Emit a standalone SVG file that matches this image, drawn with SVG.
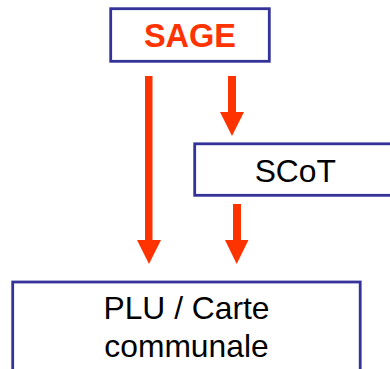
<svg xmlns="http://www.w3.org/2000/svg" width="390" height="369" viewBox="0 0 390 369">
<style>
.box{fill:#fff;stroke:#333399;stroke-width:2.8}
.t{font-family:"Liberation Sans",Arial,sans-serif;font-size:31.8px;text-anchor:middle;fill:#000}
.sage{font-weight:bold;font-size:32.5px;fill:#ff3300}
.arr{fill:#ff3300}
</style>
<rect width="390" height="369" fill="#fff"/>
<g id="connectors">
<path class="arr" d="M145,76 H152.5 V240 H161 L149,264 L137,240 H145 Z"/>
<path class="arr" d="M228,76 H236 V112 H244 L232,136 L220,112 H228 Z"/>
<path class="arr" d="M233,204 H241 V240 H248.5 L236.7,264 L225,240 H233 Z"/>
</g>
<g id="sage">
<rect class="box" x="110.7" y="8.7" width="158.6" height="52.6"/>
<text class="t sage" x="190" y="47">SAGE</text>
</g>
<g id="scot">
<rect class="box" x="194.7" y="143.8" width="200" height="51.5"/>
<text class="t" x="295.3" y="182.3">SCoT</text>
</g>
<g id="plu">
<rect class="box" x="12.7" y="282" width="347.5" height="100"/>
<text class="t" x="186.5" y="319">PLU / Carte</text>
<text class="t" x="186.5" y="357">communale</text>
</g>
</svg>
